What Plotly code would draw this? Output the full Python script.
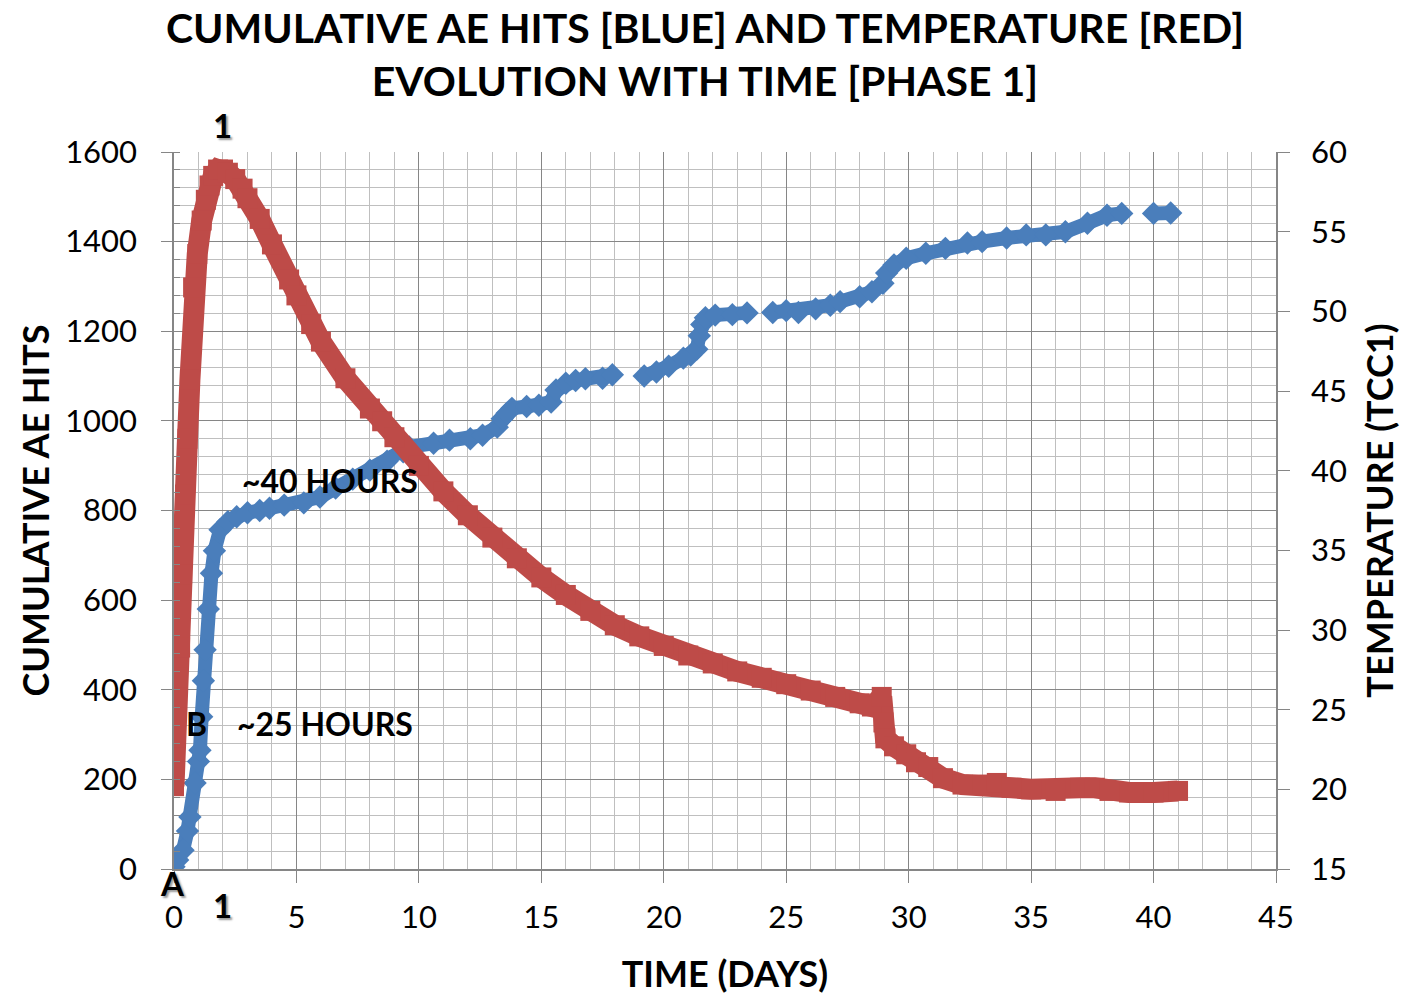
import plotly.graph_objects as go

# ---- data ----
hits_days = [0.0, 0.15, 0.37, 0.55, 0.65, 0.86, 1.0, 1.06, 1.13, 1.2, 1.27, 1.4, 1.53, 1.65, 1.88,
             2.2, 2.56, 3.0, 3.5, 3.9, 4.5, 5.3, 5.96, 6.6, 7.3, 8.0, 8.7, 9.36, 9.6, 10.6, 11.25,
             12.1, 12.6, 13.2, 13.4, 13.6, 13.8, 14.4, 14.9, 15.4, 15.6, 16.0, 16.4, 16.8, 17.5, 17.9,
             None,
             19.2, 19.7, 20.2, 20.8, 21.1, 21.35, 21.45, 21.55, 21.7, 22.1, 22.8, 23.4,
             None,
             24.45, 25.0, 25.5, 26.2, 26.8, 27.2, 28.0, 28.5, 28.95, 29.1, 29.4, 29.9, 30.7, 31.5,
             32.4, 33.0, 34.0, 34.8, 35.6, 36.4, 37.3, 38.1, 38.7,
             None,
             40.0, 40.7]
hits_values = [5, 20, 42, 85, 116, 192, 240, 265, 340, 420, 489, 580, 660, 710, 757,
               775, 786, 795, 800, 805, 812, 817, 830, 850, 870, 890, 910, 931, 942, 950, 957,
               960, 968, 986, 1005, 1017, 1028, 1032, 1035, 1042, 1069, 1084, 1090, 1094, 1095, 1103,
               None,
               1100, 1109, 1122, 1140, 1147, 1160, 1190, 1215, 1230, 1236, 1237, 1241,
               None,
               1242, 1246, 1242, 1250, 1258, 1266, 1277, 1288, 1307, 1330, 1348, 1363, 1374, 1385,
               1397, 1400, 1408, 1415, 1415, 1422, 1441, 1459, 1463,
               None,
               1463, 1464]

temp_days = [0.0, 0.03, 0.08, 0.15, 0.25, 0.33, 0.45, 0.55, 0.65, 0.78, 0.95, 1.13, 1.3, 1.45,
             1.6, 1.8, 2.0, 2.2, 2.5, 2.8, 3.0, 3.5, 4.0, 4.7, 5.0, 5.6, 6.0, 7.0, 8.0, 8.5, 9.0,
             10.0, 11.0, 12.0, 13.0, 14.0, 15.0, 16.0, 17.0, 18.0, 19.0, 20.0, 21.0, 22.0, 23.0,
             24.0, 25.0, 26.0, 27.0, 28.0, 28.5, 28.9, 28.97, 29.05, 29.4, 29.9, 30.3, 30.8, 31.4,
             32.2, 33.0, 33.6, 34.2, 35.0, 36.0, 37.0, 37.6, 38.2, 39.0, 40.0, 41.0]
temp_values = [20.2, 22.0, 24.5, 27.0, 28.9, 33.5, 38.5, 42.0, 45.7, 51.5, 53.6, 55.7, 57.0, 57.9,
               58.5, 58.9, 58.9, 58.7, 58.3, 57.7, 57.1, 55.8, 54.2, 52.0, 51.0, 49.2, 48.1, 45.8,
               43.9, 43.1, 42.1, 40.3, 38.7, 37.2, 35.8, 34.5, 33.3, 32.2, 31.2, 30.3, 29.6, 29.0,
               28.4, 27.9, 27.4, 27.0, 26.6, 26.2, 25.8, 25.4, 25.2, 25.8, 24.2, 23.2, 22.7, 22.2,
               21.7, 21.4, 20.7, 20.3, 20.3, 20.4, 20.1, 20.0, 19.9, 20.1, 20.1, 19.9, 19.8, 19.8, 19.9]

x_ticks = [0, 5, 10, 15, 20, 25, 30, 35, 40, 45]
hits_ticks = [0, 200, 400, 600, 800, 1000, 1200, 1400, 1600]
temp_ticks = [15, 20, 25, 30, 35, 40, 45, 50, 55, 60]

BLUE = "#4A7EBB"
RED = "#BE4B48"
FONT = "Lato"

fig = go.Figure()
fig.add_trace(go.Scatter(
    x=hits_days, y=hits_values, mode="lines+markers", name="Cumulative AE hits",
    line=dict(color=BLUE, width=14), connectgaps=False,
    marker=dict(symbol="diamond", size=18, color=BLUE, line=dict(width=0)),
    yaxis="y"))
fig.add_trace(go.Scatter(
    x=temp_days, y=temp_values, mode="lines+markers", name="Temperature (TCC1)",
    line=dict(color=RED, width=21),
    marker=dict(symbol="square", size=20, color=RED, line=dict(width=0)),
    yaxis="y2"))

axis_font = dict(family=FONT, size=31, color="black")
title_font = dict(family=FONT, size=36, color="black", weight="bold")

fig.update_layout(
    width=1410, height=995,
    margin=dict(l=174, r=134, t=152, b=126, autoexpand=False),
    paper_bgcolor="white", plot_bgcolor="white",
    showlegend=False,
    title=dict(text="CUMULATIVE AE HITS [BLUE] AND TEMPERATURE [RED]<br>EVOLUTION WITH TIME [PHASE 1]",
               x=0.5, xanchor="center", yref="container", y=1 - 43 / 995, yanchor="middle",
               font=dict(family=FONT, size=41, color="black", weight="bold")),
    xaxis=dict(range=[0, 45], tickvals=x_ticks, ticks="outside", ticklen=12, tickcolor="#868686",
               showline=True, linecolor="#868686", linewidth=1.5, zeroline=False, automargin=False,
               showgrid=True, gridcolor="#868686", gridwidth=1,
               minor=dict(dtick=1, showgrid=True, gridcolor="#BFBFBF", gridwidth=1, ticks=""),
               tickfont=axis_font, ticklabelstandoff=8,
               title=dict(text="TIME (DAYS)", font=title_font, standoff=29)),
    yaxis=dict(range=[0, 1600], tickvals=hits_ticks, ticks="outside", ticklen=11, tickcolor="#868686",
               showline=True, linecolor="#868686", linewidth=1.5, zeroline=False, automargin=False,
               showgrid=True, gridcolor="#868686", gridwidth=1,
               minor=dict(dtick=40, showgrid=True, gridcolor="#BFBFBF", gridwidth=1,
                          ticks="inside", ticklen=6, tickcolor="#868686"),
               tickfont=axis_font, ticklabelstandoff=18,
               title=dict(text="CUMULATIVE AE HITS", font=title_font, standoff=5)),
    yaxis2=dict(range=[15, 60], tickvals=temp_ticks, overlaying="y", side="right",
                ticks="outside", ticklen=12, tickcolor="#868686", automargin=False,
                showline=True, linecolor="#868686", linewidth=1.5, zeroline=False, showgrid=False,
                tickfont=axis_font, ticklabelstandoff=15,
                title=dict(text="TEMPERATURE (TCC1)", font=title_font, standoff=22)),
)

ann_font = dict(family=FONT, size=32, color="black", weight="bold")
shadow_font = dict(family=FONT, size=33, color="black", weight="bold", shadow="2px 2px 2px #9a9a9a")
annotations = [
    dict(text="~40 HOURS", xref="x", yref="y", x=6.37, y=868, font=ann_font),
    dict(text="~25 HOURS", xref="x", yref="y", x=6.17, y=324, font=ann_font),
    dict(text="B", xref="x", yref="y", x=0.9, y=324, font=ann_font),
    dict(text="A", xref="paper", yref="paper", x=-0.0018, y=-0.0195, font=shadow_font),
    dict(text="1", xref="x", yref="paper", x=1.96, y=1.0377, font=shadow_font),
    dict(text="1", xref="x", yref="paper", x=1.96, y=-0.0502, font=shadow_font),
]
for a in annotations:
    fig.add_annotation(showarrow=False, xanchor="center", yanchor="middle", **a)

fig.write_html("out.html")
